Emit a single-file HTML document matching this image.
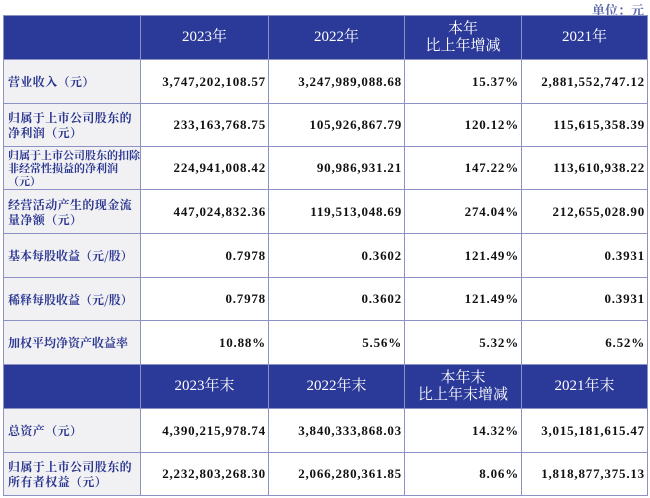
<!DOCTYPE html>
<html><head><meta charset="utf-8"><style>
*{margin:0;padding:0;box-sizing:border-box}
body{width:650px;height:498px;background:#fff;position:relative;overflow:hidden;font-family:"Liberation Serif","Noto Serif CJK SC",serif}
.u{position:absolute;right:6px;top:0;font-size:13px;color:#5a66a8;font-weight:bold;font-family:"Noto Serif CJK SC",serif}
table{position:absolute;left:3px;top:15px;border-collapse:collapse;table-layout:fixed;width:644px}
td{border:1.5px solid #8c92c4;font-size:13px;font-weight:bold;padding:0 4px;overflow:hidden}
tr.h td{background:#2b3a98;color:#fff;text-align:center;font-size:15px;font-weight:normal;line-height:17px;font-family:"Liberation Serif","Noto Serif CJK SC",serif}
td.l{background:#f1f1f3;color:#2a3590;font-family:"Noto Serif CJK SC",serif;font-size:12px;line-height:15px;letter-spacing:0.4px;padding:0 1px 0 4px}
td.nw{white-space:nowrap;letter-spacing:0}
td.n{text-align:right;color:#111;letter-spacing:0.8px;padding-right:2px}
</style></head><body>
<div class="u">单位：元</div>
<table>
<colgroup><col style="width:137px"><col style="width:128px"><col style="width:136px"><col style="width:117px"><col style="width:126px"></colgroup>
<tr class="h" style="height:44px"><td></td><td>2023年</td><td>2022年</td><td>本年<br>比上年增减</td><td>2021年</td></tr>
<tr style="height:44px"><td class="l">营业收入（元）</td><td class="n">3,747,202,108.57</td><td class="n">3,247,989,088.68</td><td class="n">15.37%</td><td class="n">2,881,552,747.12</td></tr>
<tr style="height:43px"><td class="l">归属于上市公司股东的<br>净利润（元）</td><td class="n">233,163,768.75</td><td class="n">105,926,867.79</td><td class="n">120.12%</td><td class="n">115,615,358.39</td></tr>
<tr style="height:43px"><td class="l" style="font-size:11px;line-height:13px;letter-spacing:0;white-space:nowrap">归属于上市公司股东的扣除<br>非经常性损益的净利润<br>（元）</td><td class="n">224,941,008.42</td><td class="n">90,986,931.21</td><td class="n">147.22%</td><td class="n">113,610,938.22</td></tr>
<tr style="height:44px"><td class="l">经营活动产生的现金流<br>量净额（元）</td><td class="n">447,024,832.36</td><td class="n">119,513,048.69</td><td class="n">274.04%</td><td class="n">212,655,028.90</td></tr>
<tr style="height:44px"><td class="l nw">基本每股收益（元/股）</td><td class="n">0.7978</td><td class="n">0.3602</td><td class="n">121.49%</td><td class="n">0.3931</td></tr>
<tr style="height:43px"><td class="l nw">稀释每股收益（元/股）</td><td class="n">0.7978</td><td class="n">0.3602</td><td class="n">121.49%</td><td class="n">0.3931</td></tr>
<tr style="height:44px"><td class="l nw">加权平均净资产收益率</td><td class="n">10.88%</td><td class="n">5.56%</td><td class="n">5.32%</td><td class="n">6.52%</td></tr>
<tr class="h" style="height:44px"><td></td><td>2023年末</td><td>2022年末</td><td>本年末<br>比上年末增减</td><td>2021年末</td></tr>
<tr style="height:44px"><td class="l">总资产（元）</td><td class="n">4,390,215,978.74</td><td class="n">3,840,333,868.03</td><td class="n">14.32%</td><td class="n">3,015,181,615.47</td></tr>
<tr style="height:43px"><td class="l">归属于上市公司股东的<br>所有者权益（元）</td><td class="n">2,232,803,268.30</td><td class="n">2,066,280,361.85</td><td class="n">8.06%</td><td class="n">1,818,877,375.13</td></tr>
</table>
</body></html>
